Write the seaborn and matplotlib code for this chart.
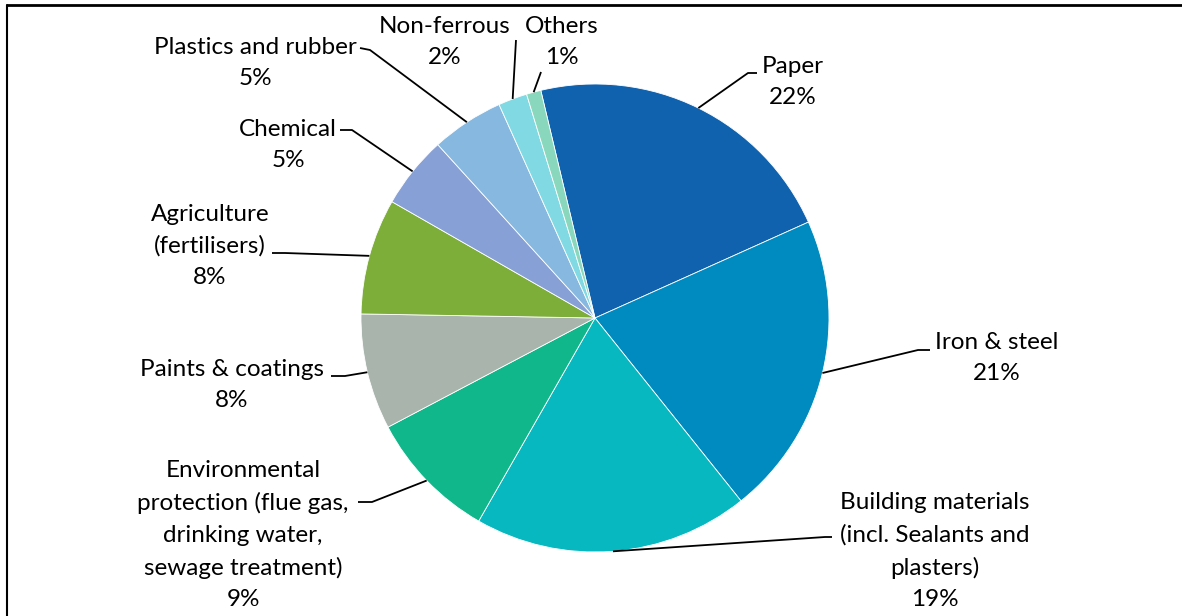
import numpy as np
import matplotlib
matplotlib.use("Agg")
import matplotlib.pyplot as plt
import seaborn as sns

# Silica end-use shares (%)
categories = ["Paper", "Iron & steel",
              "Building materials\n(incl. Sealants and\nplasters)",
              "Environmental\nprotection (flue gas,\ndrinking water,\nsewage treatment)",
              "Paints & coatings", "Agriculture\n(fertilisers)", "Chemical",
              "Plastics and rubber", "Non-ferrous", "Others"]
shares = [22, 21, 19, 9, 8, 8, 5, 5, 2, 1]
colors = ["#1062AE", "#008BC0", "#08B8C0", "#10B78A", "#A8B4AC",
          "#7DAE39", "#87A0D5", "#86B8E0", "#80D9E3", "#89D8BD"]

# label placement in pixel units (x, y from top), leader elbow and label side
label_pos = [(793, 82), (997, 358), (935, 551), (243, 535), (232, 385),
             (210, 246), (288, 145), (255, 63), (445, 42), (562, 42)]
elbows = [(748, 73), (918, 350), (825, 537), (372, 502), (345, 376),
          (285, 253), (352, 130), (370, 50), (516, 40), (541, 72)]
ends = [(757, 73), (930, 350), (832, 537), (358, 502), (331, 376),
        (272, 253), (340, 130), (360, 48), (516, 40), (541, 72)]

W, H = 1182, 616
sns.set_theme(style="white")
plt.rcParams["font.family"] = ["Lato", "DejaVu Sans"]

fig = plt.figure(figsize=(W / 100, H / 100), dpi=100)
ax = fig.add_axes([0, 0, 1, 1])

cx, cy, r = 595, H - 318, 234
pal = sns.color_palette(colors)
wedges, _ = ax.pie(shares, colors=pal, startangle=103.4, counterclock=False,
                   center=(cx, cy), radius=r, frame=True,
                   wedgeprops=dict(edgecolor="white", linewidth=0.6))
ax.set_xlim(0, W)
ax.set_ylim(0, H)
ax.set_aspect("equal")
ax.axis("off")

for w, name, val, (tx, ty), (ex, ey), (fx, fy) in zip(
        wedges, categories, shares, label_pos, elbows, ends):
    mid = np.deg2rad((w.theta1 + w.theta2) / 2)
    sx, sy = cx + r * np.cos(mid), cy + r * np.sin(mid)
    ax.plot([sx, ex, fx], [sy, H - ey, H - fy], color="black", lw=1.3,
            solid_capstyle="butt", zorder=3)
    ax.text(tx, H - ty, f"{name}\n{val}%", ha="center", va="center",
            fontsize=17.5, linespacing=1.62, color="black")

# chart frame (top and left edges)
ax.plot([7, W], [H - 5, H - 5], color="black", lw=2, clip_on=False)
ax.plot([7, 7], [0, H - 5], color="black", lw=1.5, clip_on=False)

fig.savefig("out.png", dpi=100, facecolor="white")
